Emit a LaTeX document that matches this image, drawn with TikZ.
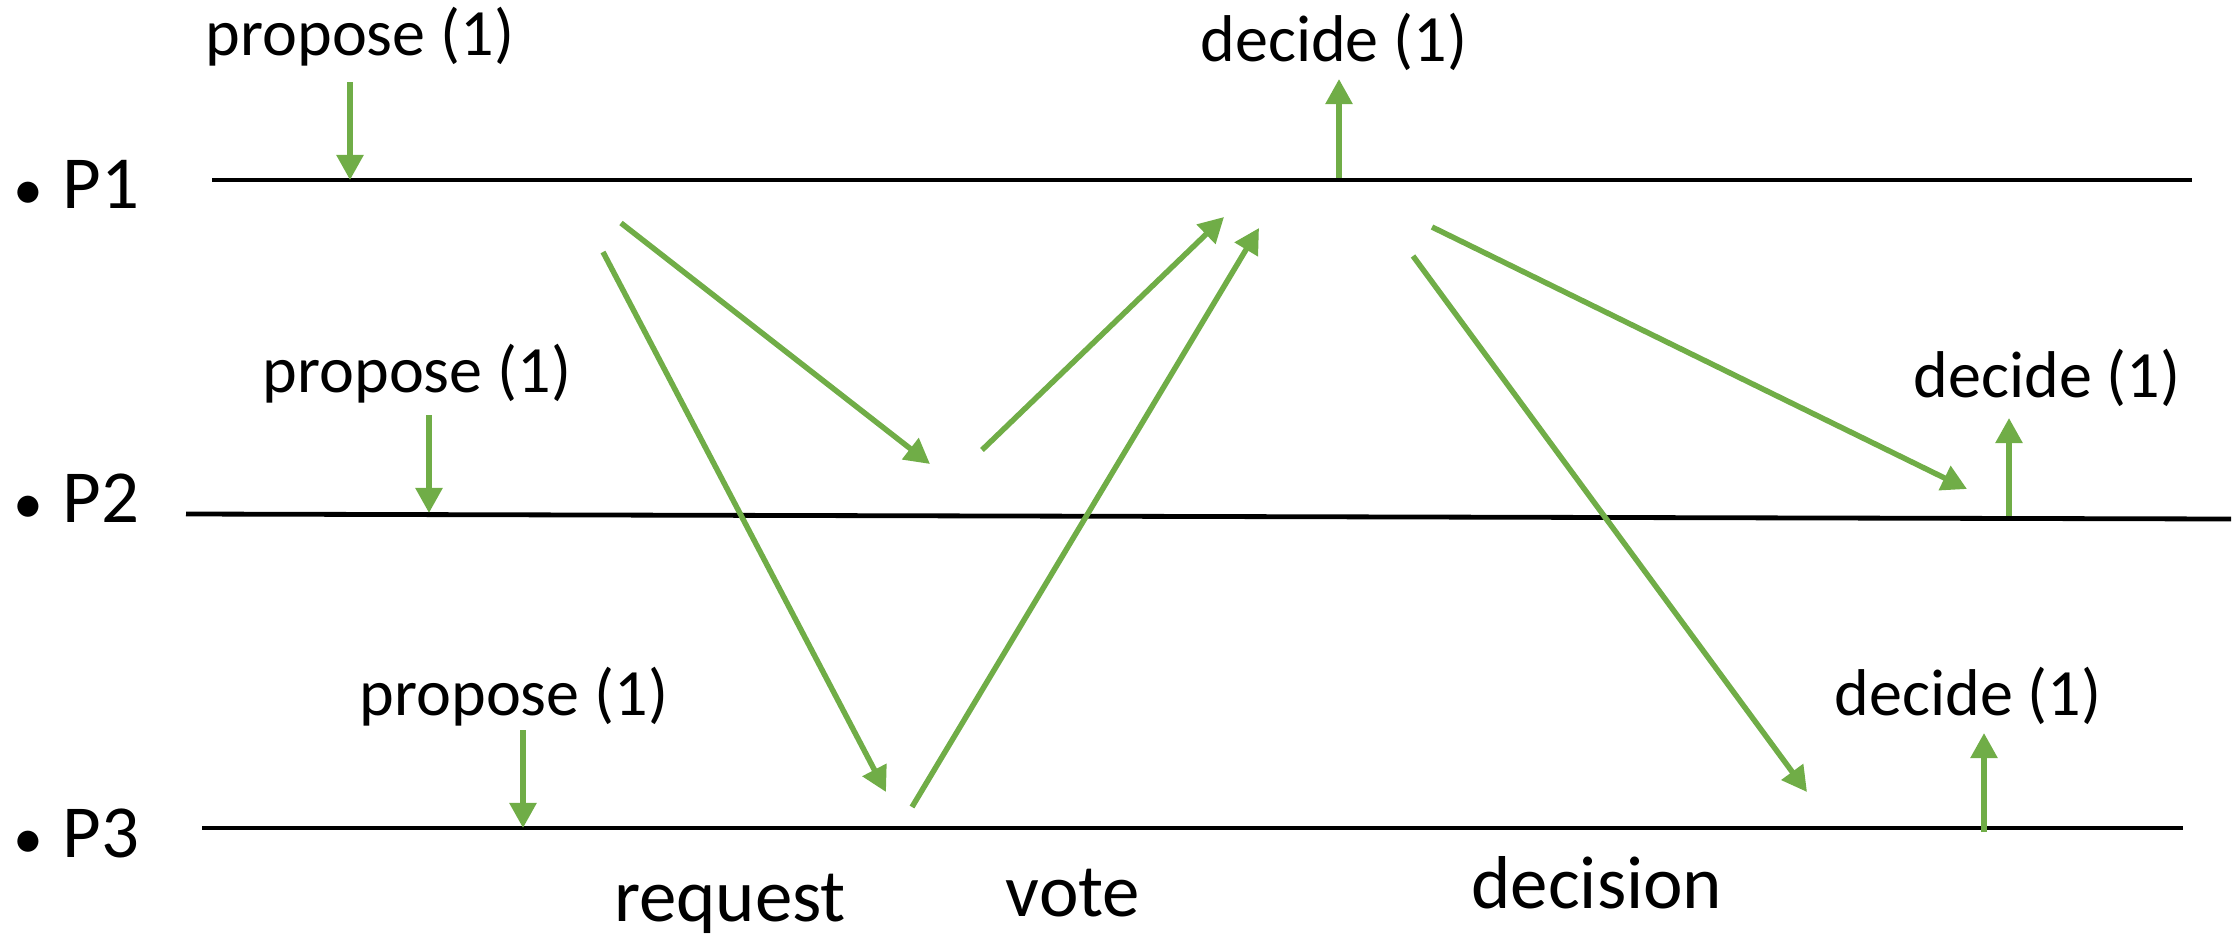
\documentclass[tikz,border=0pt]{standalone}
\usepackage{fontspec}
\setmainfont{Carlito}
\usetikzlibrary{arrows.meta}
\definecolor{msggreen}{HTML}{70AD47}
\begin{document}
\begin{tikzpicture}[x=0.01cm,y=-0.01cm,
  timeline/.style={draw=black,line width=0.048cm},
  msg/.style={draw=msggreen,line width=0.055cm,-{Triangle[length=0.25cm,width=0.26cm]}},
  evt/.style={msg},
  small/.style={inner sep=0pt,anchor=base,font=\fontsize{18.8}{22}\selectfont},
  big/.style={inner sep=0pt,font=\fontsize{21.3}{25}\selectfont},
  dot/.style={inner sep=0pt,anchor=base,font=\fontsize{17}{19}\selectfont}]
\useasboundingbox (0,0) rectangle (2239,936);

% process labels
\node[dot] (b1) at (28,209) {•};
\node[big,anchor=base west] (p1) at (62,208) {P1};
\node[dot] (b2) at (28,523) {•};
\node[big,anchor=base west] (p2) at (62,522) {P2};
\node[dot] (b3) at (28,858) {•};
\node[big,anchor=base west] (p3) at (62,857) {P3};

% time lines
\coordinate (l1s) at (212,180); \coordinate (l1e) at (2192,180);
\coordinate (l2s) at (186,514); \coordinate (l2e) at (2231,519);
\coordinate (l3s) at (202,828); \coordinate (l3e) at (2183,828);
\draw[timeline] (l1s) -- (l1e);
\draw[timeline] (l2s) -- (l2e);
\draw[timeline] (l3s) -- (l3e);

% propose events
\node[small] (pr1) at (360,55) {propose (1)};
\node[small] (pr2) at (417,392) {propose (1)};
\node[small] (pr3) at (514,715) {propose (1)};
\coordinate (pr1a) at (350,82);  \coordinate (pr1b) at (350,180);
\coordinate (pr2a) at (429,415); \coordinate (pr2b) at (429,513);
\coordinate (pr3a) at (523,730); \coordinate (pr3b) at (523,828);
\draw[evt] (pr1a) -- (pr1b);
\draw[evt] (pr2a) -- (pr2b);
\draw[evt] (pr3a) -- (pr3b);

% decide events
\node[small] (de1) at (1334,61) {decide (1)};
\node[small] (de2) at (2047,397) {decide (1)};
\node[small] (de3) at (1968,715) {decide (1)};
\coordinate (de1a) at (1339,178); \coordinate (de1b) at (1339,79);
\coordinate (de2a) at (2009,516); \coordinate (de2b) at (2009,418);
\coordinate (de3a) at (1984,832); \coordinate (de3b) at (1984,733);
\draw[evt] (de1a) -- (de1b);
\draw[evt] (de2a) -- (de2b);
\draw[evt] (de3a) -- (de3b);

% messages
\coordinate (rqa1) at (621,223);  \coordinate (rqa2) at (930,464);
\coordinate (rqb1) at (603,252);  \coordinate (rqb2) at (886,792);
\coordinate (vta1) at (982,450);  \coordinate (vta2) at (1224,217);
\coordinate (vtb1) at (912,807);  \coordinate (vtb2) at (1259,228);
\coordinate (dca1) at (1432,227); \coordinate (dca2) at (1967,489);
\coordinate (dcb1) at (1413,256); \coordinate (dcb2) at (1807,792);
\draw[msg] (rqa1) -- (rqa2);
\draw[msg] (rqb1) -- (rqb2);
\draw[msg] (vta1) -- (vta2);
\draw[msg] (vtb1) -- (vtb2);
\draw[msg] (dca1) -- (dca2);
\draw[msg] (dcb1) -- (dcb2);

% phase labels
\node[big,anchor=base] (request) at (730,921) {request};
\node[big,anchor=base] (vote) at (1073,916) {vote};
\node[big,anchor=base] (decision) at (1597,908) {decision};
\end{tikzpicture}
\end{document}
